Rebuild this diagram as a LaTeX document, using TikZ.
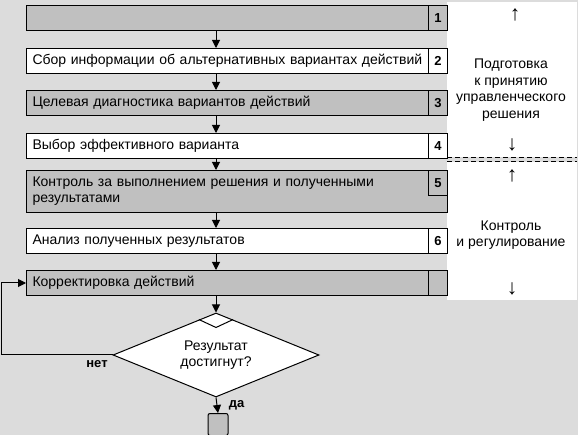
\documentclass[tikz,border=0pt]{standalone}
\usepackage{fontspec}
\setmainfont{Liberation Sans}
\usetikzlibrary{shapes.geometric,arrows.meta,positioning,calc}
\definecolor{backgray}{RGB}{220,220,220}
\definecolor{stagegray}{RGB}{192,192,192}

\begin{document}
\begin{tikzpicture}[
    x=1pt, y=-1pt,
    every node/.style={font=\fontsize{14}{16}\selectfont},
    stage/.style={rectangle, draw=black, fill=stagegray, line width=1pt, minimum width=421pt, minimum height=25pt, text width=409pt, inner xsep=6pt, align=left, anchor=north west},
    stagewhite/.style={stage, fill=white},
    num/.style={rectangle, draw=black, fill=white, line width=1pt, minimum width=19pt, minimum height=25pt, inner sep=0pt, anchor=north east, font=\fontsize{13}{15}\selectfont\bfseries},
    numgray/.style={num, fill=stagegray},
    panel/.style={rectangle, fill=white, minimum width=130pt, inner sep=0pt, anchor=north west},
    note/.style={align=center, font=\fontsize{14}{16.5}\selectfont},
    pointer/.style={inner sep=0pt, font=\fontsize{21}{21}\selectfont},
    yesno/.style={font=\fontsize{13}{15}\selectfont\bfseries},
    arrow/.style={-{Triangle[length=8pt,width=8pt]}, line width=1pt},
    link/.style={line width=1pt},
    divider/.style={line width=1pt, dash pattern=on 5pt off 3pt}
]

% Background
\useasboundingbox (0,0) rectangle (578,435);
\fill[backgray] (0,0) rectangle (578,435);

% Side panels
\node[panel, minimum height=155pt] (prep) at (447,2) {};
\node[panel, minimum height=138pt] (ctrl) at (447,162) {};
\draw[divider] (prep.south west) -- (prep.south east);
\draw[divider] (ctrl.north west) -- (ctrl.north east);

\node[pointer] (prepup) at (515,15) {↑};
\node[note] (preptext) at (511,90) {Подготовка\\к принятию\\управленческого\\решения};
\node[pointer] (prepdown) at (512,145) {↓};
\node[pointer] (ctrlup) at (512,176) {↑};
\node[note] (ctrltext) at (511,235) {Контроль\\и регулирование};
\node[pointer] (ctrldown) at (512,289) {↓};

% Stages
\node[stage] (b1) at (26,5) {};
\node[stagewhite] (b2) at (26,48) {Сбор информации об альтернативных вариантах действий};
\node[stage] (b3) at (26,90) {Целевая диагностика вариантов действий};
\node[stagewhite] (b4) at (26,133) {Выбор эффективного варианта};
\node[stage, minimum height=42pt] (b5) at (26,170) {Контроль за выполнением решения и полученными\\результатами};
\node[stagewhite] (b6) at (26,228) {Анализ полученных результатов};
\node[stage] (b7) at (26,270) {Корректировка действий};

% Stage numbers
\node[numgray] (n1) at (b1.north east) {1};
\node[num] (n2) at (b2.north east) {2};
\node[numgray] (n3) at (b3.north east) {3};
\node[num] (n4) at (b4.north east) {4};
\node[numgray] (n5) at (b5.north east) {5};
\node[num] (n6) at (b6.north east) {6};
\node[numgray] (n7) at (b7.north east) {};

% Decision
\node[diamond, draw=black, fill=white, line width=1pt, minimum width=206pt, minimum height=84pt, aspect=2.45, inner sep=0pt, align=center] (check) at (216,355) {Результат\\достигнут?};
\draw[link] ($(check.north)!0.165!(check.west)$) -- ($(check.north)+(0,15)$) -- ($(check.north)!0.165!(check.east)$);

% End
\node[rectangle, draw=black, fill=stagegray, line width=1pt, rounded corners=2pt, minimum width=20pt, minimum height=22pt, anchor=north] (done) at (218,413) {};

% Connections
\draw[arrow] (b1.south -| check) -- (b2.north -| check);
\draw[arrow] (b2.south -| check) -- (b3.north -| check);
\draw[arrow] (b3.south -| check) -- (b4.north -| check);
\draw[arrow] (b4.south -| check) -- (b5.north -| check);
\draw[arrow] (b5.south -| check) -- (b6.north -| check);
\draw[arrow] (b6.south -| check) -- (b7.north -| check);
\draw[arrow] (b7.south -| check) -- (check.north);
\draw[arrow] (check.south) -- node[yesno, right=8pt] {да} (done.north);

% Feedback loop
\draw[arrow] (check.west) node[yesno, below left=2pt and 1pt] {нет} -- ++(-111,0) |- (b7.west);

\end{tikzpicture}
\end{document}
